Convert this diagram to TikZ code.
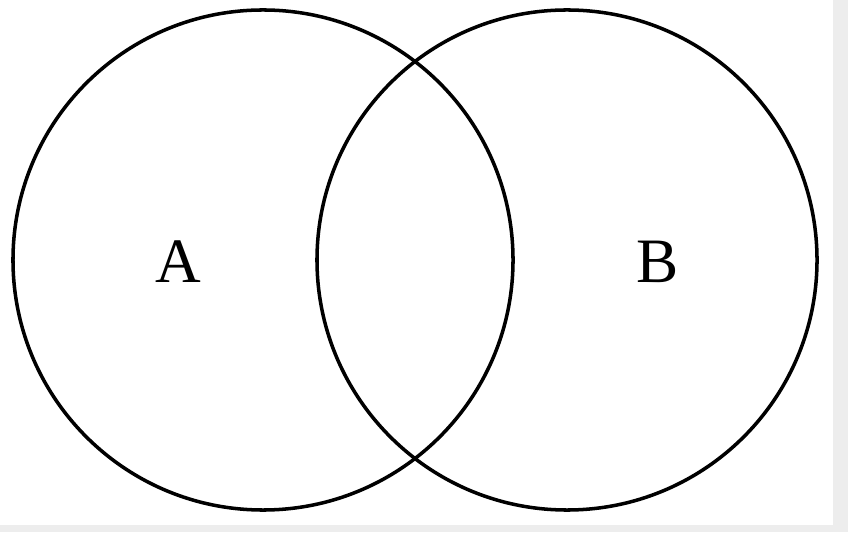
\documentclass[tikz,border=0pt]{standalone}
\usepackage{fontspec}
\setmainfont{Liberation Serif}
\usetikzlibrary{positioning}

\begin{document}
\begin{tikzpicture}[
				x=0.03cm, y=0.03cm,
				set/.style={draw, circle, line width=3pt, minimum size=15cm, inner sep=0pt},
				setlabel/.style={font=\fontsize{54}{54}\selectfont, inner sep=0pt},
			]
			% page and frame
			\fill[black!7] (0,0) rectangle (848,532);
			\fill[white] (0,7) rectangle (833,532);
			\useasboundingbox (0,0) rectangle (848,532);

			% sets
			\node[set] (setA) at (263,272) {};
			\node[set] (setB) at (567,272) {};

			% labels
			\node[setlabel] (labA) at (178,270) {A};
			\node[setlabel] (labB) at (658,270) {B};
		\end{tikzpicture}
\end{document}
